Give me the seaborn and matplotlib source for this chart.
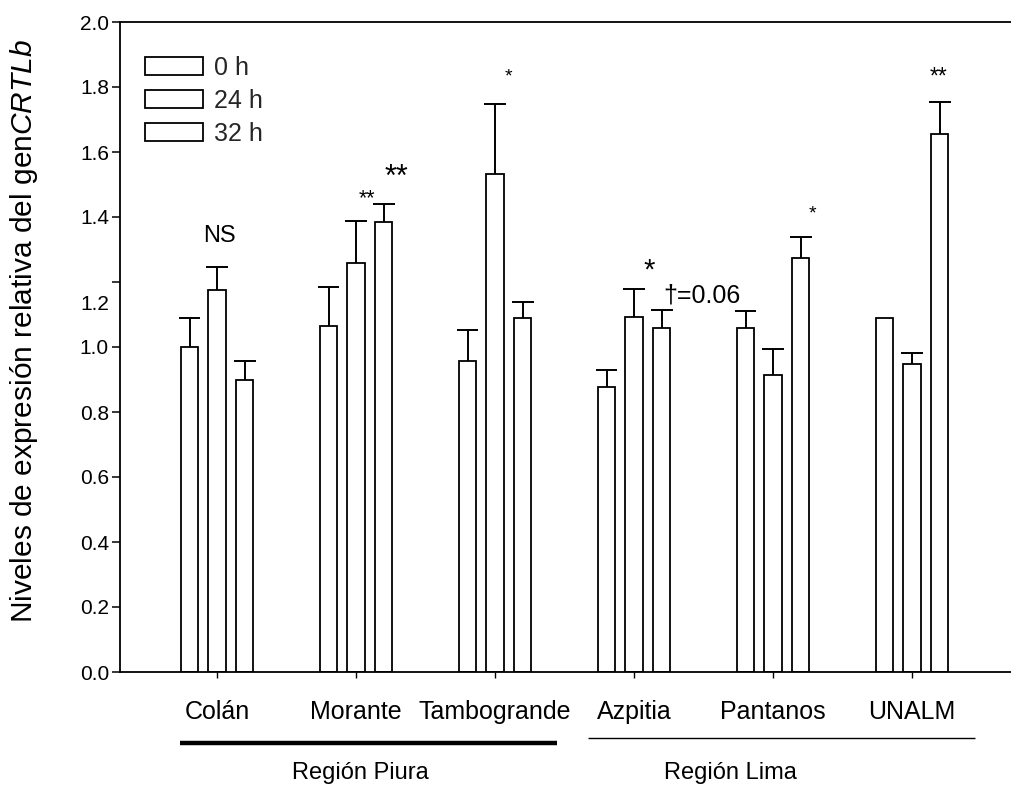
import numpy as np
import pandas as pd
import matplotlib
matplotlib.use("Agg")
import matplotlib.pyplot as plt
import matplotlib.transforms as mtransforms
import seaborn as sns

# Relative expression of CRTLb per site and time point (mean, upper SE)
sites = ["Colán", "Morante", "Tambogrande", "Azpitia", "Pantanos", "UNALM"]
times = ["0 h", "24 h", "32 h"]
mean_0h = [1.00, 1.066, 0.958, 0.876, 1.060, 1.090]
mean_24h = [1.174, 1.257, 1.532, 1.093, 0.914, 0.948]
mean_32h = [0.898, 1.386, 1.088, 1.060, 1.275, 1.656]
err_0h = [0.088, 0.120, 0.094, 0.053, 0.052, 0.0]
err_24h = [0.071, 0.132, 0.216, 0.085, 0.079, 0.034]
err_32h = [0.060, 0.054, 0.050, 0.054, 0.062, 0.097]

y_ticks = [0.0, 0.2, 0.4, 0.6, 0.8, 1.0, 1.2, 1.4, 1.6, 1.8, 2.0]
regions = ["Región Piura", "Región Lima"]

# significance marks: (site index, x offset, y, text, font size)
marks = [
    (0, 0.014, 1.342, "NS", 17),
    (1, 0.077, 1.455, "**", 15.5),
    (1, 0.293, 1.520, "**", 22),
    (2, 0.099, 1.832, "*", 14),
    (3, 0.108, 1.235, "*", 21),
    (4, 0.286, 1.408, "*", 14),
    (5, 0.194, 1.832, "**", 16.5),
]

sns.set_theme(style="white")
plt.rcParams["font.family"] = ["Liberation Sans", "DejaVu Sans"]
plt.rcParams["mathtext.fontset"] = "custom"
plt.rcParams["mathtext.rm"] = "Liberation Sans"
plt.rcParams["mathtext.it"] = "Liberation Sans:italic"

df = pd.DataFrame({
    "site": np.repeat(sites, 3),
    "time": times * len(sites),
    "value": np.ravel(np.column_stack([mean_0h, mean_24h, mean_32h])),
})
errs = np.column_stack([err_0h, err_24h, err_32h])

fig = plt.figure(figsize=(10.11, 7.87), dpi=100)
ax = fig.add_axes([120 / 1011, 1 - 672 / 787, 891 / 1011, 650 / 787])

sns.barplot(data=df, x="site", y="value", hue="time", order=sites,
            hue_order=times, palette=["white"] * 3, edgecolor="black",
            linewidth=1.3, width=0.594, gap=0.38, errorbar=None, ax=ax,
            saturation=1)

# upper error bars with caps
cap_half = 0.079
for h, cont in enumerate(ax.containers):
    for i, bar in enumerate(cont):
        e = errs[i, h]
        if e <= 0:
            continue
        xc = bar.get_x() + bar.get_width() / 2
        top = bar.get_height()
        ax.vlines(xc, top, top + e, color="black", lw=1.4, zorder=3)
        ax.hlines(top + e, xc - cap_half, xc + cap_half, color="black",
                  lw=1.4, zorder=3)

ax.set_xlim(-0.698, 5.712)
ax.set_ylim(0, 2.0)
ax.set_yticks(y_ticks)
ax.set_yticklabels([f"{t:.1f}" for t in y_ticks])
ax.tick_params(axis="y", direction="out", length=6, width=1.1,
               labelsize=15, pad=2, left=True, colors="black")
ax.tick_params(axis="x", direction="out", length=4, width=1.0,
               labelsize=18, pad=16, bottom=True, colors="black")
ax.set_xlabel("")

# the 1.2 label sits a little below its tick
for lab in ax.get_yticklabels():
    if lab.get_text() == "1.2":
        lab.set_transform(lab.get_transform() +
                          mtransforms.ScaledTranslation(0, -20 / 100, fig.dpi_scale_trans))

for side in ["left", "bottom", "top"]:
    ax.spines[side].set_visible(True)
    ax.spines[side].set_color("black")
    ax.spines[side].set_linewidth(1.3)
ax.spines["right"].set_visible(False)

ax.set_ylabel(r"Niveles de expresión relativa del gen$\it{CRTLb}$",
              fontsize=21.5, color="black")
ax.yaxis.set_label_coords(-0.0898, 0.525)

for i, dx, y, txt, fs in marks:
    ax.text(i + dx, y, txt, ha="center", va="center", fontsize=fs,
            color="black")
ax.text(3.209, 1.157, "\u2020=0.06", ha="left", va="center", fontsize=18,
        color="black")

# region underlines and labels below the axis
trans = mtransforms.blended_transform_factory(ax.transData, ax.transAxes)
ax.plot([-0.266, 2.446], [-0.109, -0.109], color="black", lw=3.2,
        transform=trans, clip_on=False, solid_capstyle="butt")
ax.plot([2.669, 5.453], [-0.1015, -0.1015], color="black", lw=1.0,
        transform=trans, clip_on=False, solid_capstyle="butt")
ax.text(1.029, -0.155, regions[0], ha="center", va="center", fontsize=17,
        transform=trans, color="black")
ax.text(3.69, -0.155, regions[1], ha="center", va="center", fontsize=17,
        transform=trans, color="black")

leg = ax.legend(loc="upper left", bbox_to_anchor=(145 / 1011, 1 - 56 / 787),
                bbox_transform=fig.transFigure, frameon=False, fontsize=18,
                handlelength=2.32, handleheight=0.72, labelspacing=0.36,
                handletextpad=0.44, borderpad=0, borderaxespad=0, title=None)

fig.savefig("out.png", dpi=100)
